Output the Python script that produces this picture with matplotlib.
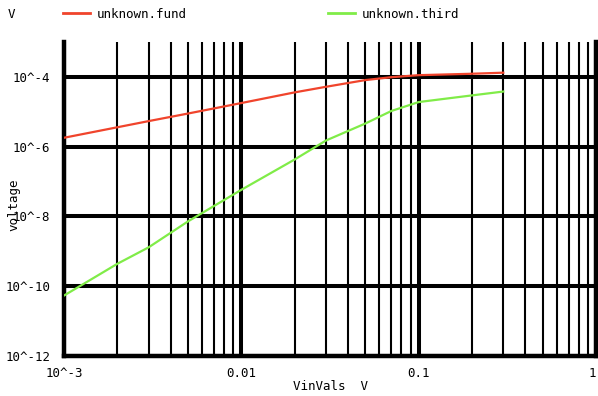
import numpy as np
import matplotlib.pyplot as plt
from matplotlib.ticker import FixedLocator, NullFormatter, NullLocator

# values
vin_vals = [0.001, 0.002, 0.003, 0.005, 0.01, 0.02, 0.03, 0.05, 0.07, 0.1, 0.2, 0.3]
fund = [1.80e-6, 3.6e-6, 5.4e-6, 8.9e-6, 1.78e-5, 3.6e-5, 5.2e-5, 8.1e-5,
        9.8e-5, 1.12e-4, 1.23e-4, 1.32e-4]
third = [5.4e-11, 4.4e-10, 1.3e-9, 7.2e-9, 5.8e-8, 4.3e-7, 1.5e-6, 4.6e-6,
         1.05e-5, 1.9e-5, 2.95e-5, 3.8e-5]

x_ticks = [1e-3, 1e-2, 1e-1, 1]
x_labels = ["10^-3", "0.01", "0.1", "1"]
y_ticks = [1e-12, 1e-10, 1e-8, 1e-6, 1e-4]
y_labels = ["10^-12", "10^-10", "10^-8", "10^-6", "10^-4"]

font = "DejaVu Sans Mono"
fs = 9

fig = plt.figure(figsize=(5.98, 3.96), dpi=100)
ax = fig.add_axes([64 / 598, 40 / 396, 532 / 598, 314 / 396])

ax.plot(vin_vals, fund, color="#f0442c", lw=1.6, zorder=3)
ax.plot(vin_vals, third, color="#80ec48", lw=1.6, zorder=3)

ax.set_xscale("log")
ax.set_yscale("log")
ax.set_xlim(1e-3, 1)
ax.set_ylim(1e-12, 1e-3)

ax.xaxis.set_major_locator(FixedLocator(x_ticks))
ax.xaxis.set_minor_locator(FixedLocator(
    [m * 10.0 ** e for e in (-3, -2, -1) for m in range(2, 10)]))
ax.xaxis.set_minor_formatter(NullFormatter())
ax.set_xticklabels(x_labels, fontfamily=font, fontsize=fs)
# last label sits against the right edge
ax.get_xticklabels()[-1].set_horizontalalignment("right")
ax.yaxis.set_major_locator(FixedLocator(y_ticks))
ax.yaxis.set_minor_locator(NullLocator())
ax.set_yticklabels(y_labels, fontfamily=font, fontsize=fs)
ax.tick_params(which="both", length=0)
ax.tick_params(axis="x", pad=8)
ax.tick_params(axis="y", pad=10)

ax.grid(True, which="major", color="black", lw=2.9)
ax.grid(True, which="minor", axis="x", color="black", lw=1.5)
ax.set_axisbelow(True)

ax.spines["top"].set_visible(False)
for s in ("left", "bottom", "right"):
    ax.spines[s].set_linewidth(3.2)

# labels and legend as in the original
fig.text(293 / 598, 1 - 386 / 396, "VinVals  V", fontfamily=font, fontsize=fs,
         va="center", ha="left")
fig.text(14 / 598, 1 - 205 / 396, "voltage", fontfamily=font, fontsize=fs,
         rotation=90, va="center", ha="center")
fig.text(8 / 598, 1 - 15 / 396, "V", fontfamily=font, fontsize=fs,
         va="center", ha="left")

fig.add_artist(plt.Line2D([63 / 598, 90 / 598], [1 - 13 / 396] * 2,
                          color="#f0442c", lw=2))
fig.text(97 / 598, 1 - 15 / 396, "unknown.fund", fontfamily=font, fontsize=fs,
         va="center", ha="left")
fig.add_artist(plt.Line2D([328 / 598, 355 / 598], [1 - 13 / 396] * 2,
                          color="#80ec48", lw=2))
fig.text(362 / 598, 1 - 15 / 396, "unknown.third", fontfamily=font, fontsize=fs,
         va="center", ha="left")

fig.savefig("out.png", dpi=100)
